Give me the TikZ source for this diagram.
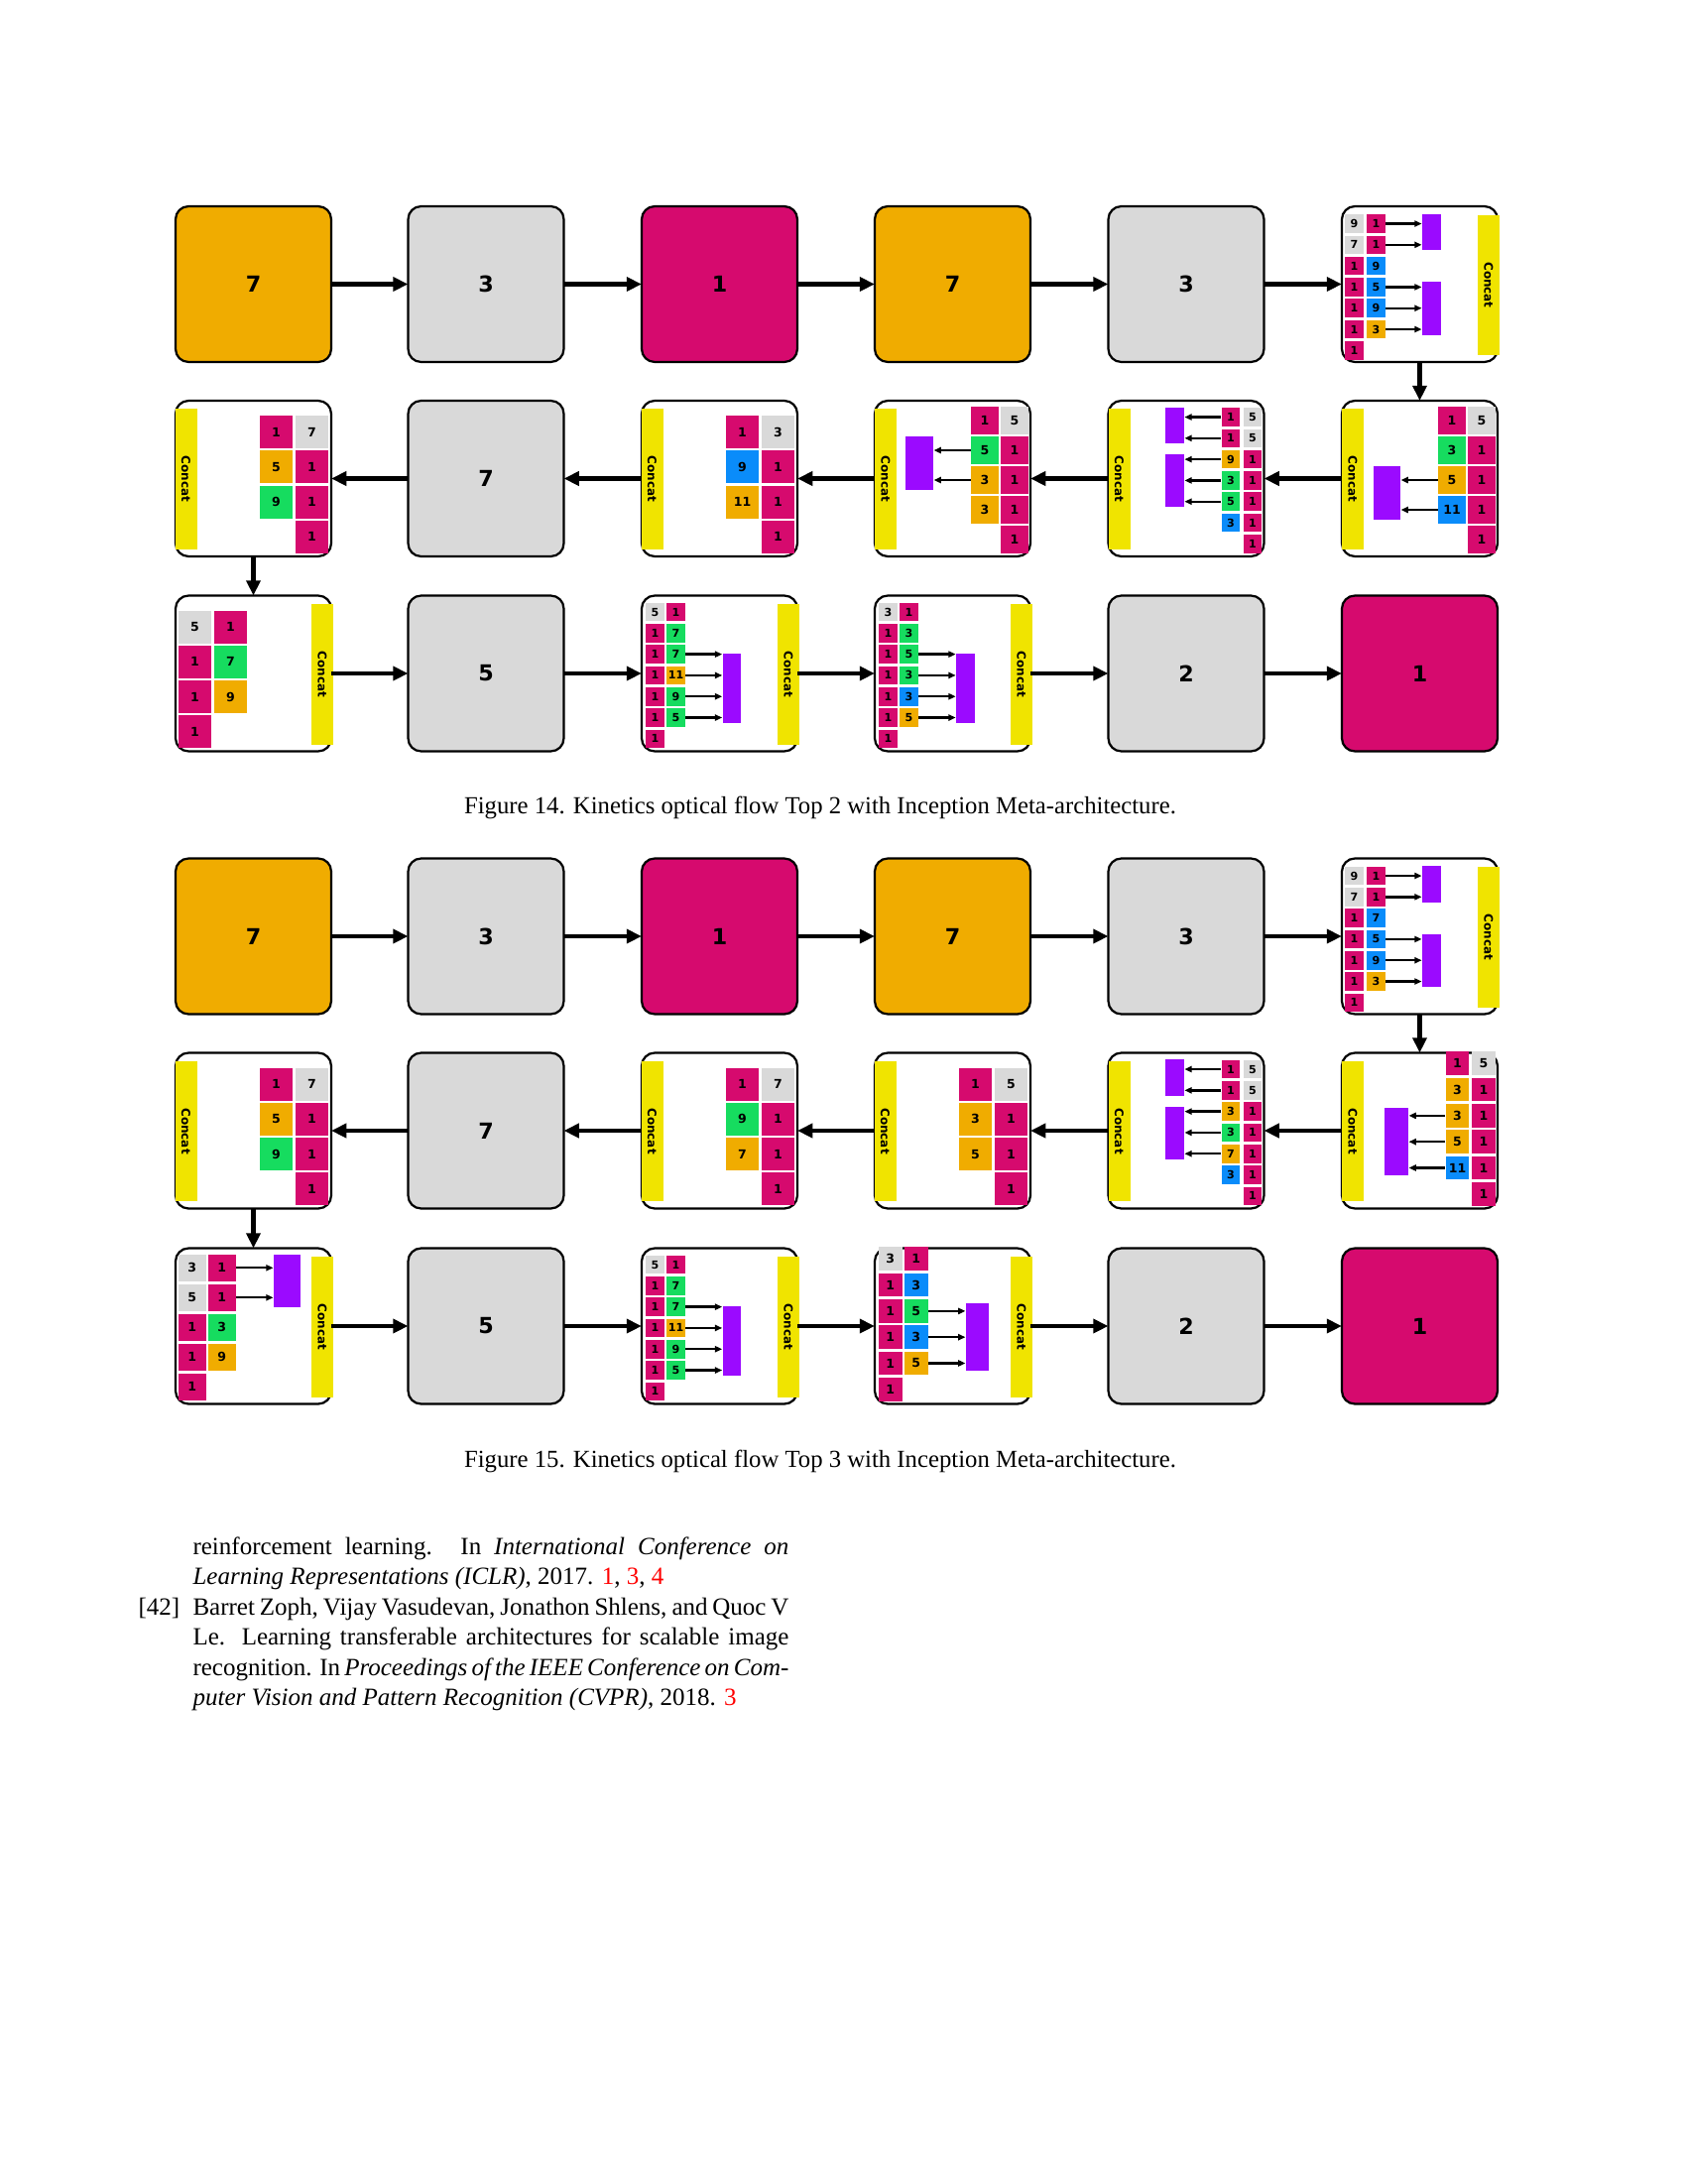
\documentclass[tikz,border=0pt]{standalone}
\usepackage{fontspec}
\setmainfont{Liberation Serif}
\newfontfamily\diagfont{DejaVu Sans}
\usepackage{tikz}
\usetikzlibrary{arrows.meta,positioning,calc}
\definecolor{mag}{RGB}{214,10,110}
\definecolor{orn}{RGB}{240,172,0}
\definecolor{gry}{RGB}{217,217,217}
\definecolor{grn}{RGB}{22,220,95}
\definecolor{blu}{RGB}{10,140,250}
\definecolor{vio}{RGB}{155,10,255}
\definecolor{yel}{RGB}{240,228,0}
\definecolor{cite}{RGB}{255,0,0}
\tikzset{
  >={Triangle[length=5.5pt,width=5pt]},
  blk/.style={draw=black,fill=#1,rounded corners=4.7pt,line width=0.8pt,
    minimum size=56.5pt,inner sep=0pt,outer sep=0pt,
    font=\diagfont\bfseries\fontsize{8}{8}\selectfont},
  blk/.default=white,
  flow/.style={->,line width=1.6pt},
  cell/.style={fill=#1,inner sep=0pt,font=\diagfont\bfseries\fontsize{4.5}{4.5}\selectfont},
  c18/.style={minimum size=6.7pt,font=\diagfont\bfseries\fontsize{4}{4}\selectfont},
  c23/.style={minimum size=8.5pt},
  c27/.style={minimum size=9.9pt},
  c33/.style={minimum size=11.9pt},
  pool/.style={fill=vio,inner sep=0pt},
  concat/.style={fill=yel,rotate=-90,minimum width=51pt,minimum height=7.9pt,inner sep=0pt,
    font=\diagfont\bfseries\fontsize{4.3}{4.3}\selectfont},
  tap/.style={-{Triangle[length=2.6pt,width=2.2pt]},line width=0.85pt},
  figcap/.style={font=\fontsize{8.9}{11}\selectfont},
  bib/.style={font=\fontsize{9}{11}\selectfont,anchor=base west,inner sep=0pt},
}
% cells of one block: name, size, x of col 0, x of col 1, y of row 0, row pitch, col/row/colour/label
\newcommand\cellgrid[7]{%
  \foreach \c/\r/\hue/\lab in {#7}{%
    \node[cell=\hue,#2] (#1-\c\r) at ({#3+\c*(#4-#3)},{#5+\r*#6}) {\lab};}}

\begin{document}
\begin{tikzpicture}[x=0.36pt,y=-0.36pt]
  \fill[white] (0,0) rectangle (1700,2202);
  \useasboundingbox (0,0) rectangle (1700,2202);

  % Figure 14
  \node[blk=orn] (A1) at (255.5,286.5) {7};
  \node[blk=gry] (A2) at (490,286.5) {3};
  \node[blk=mag] (A3) at (725.5,286.5) {1};
  \node[blk=orn] (A4) at (960.5,286.5) {7};
  \node[blk=gry] (A5) at (1196,286.5) {3};
  \node[blk] (A6) at (1431.5,286.5) {};
  \node[blk] (B6) at (1431.5,482.5) {};
  \node[blk] (B5) at (1196,482.5) {};
  \node[blk] (B4) at (960.5,482.5) {};
  \node[blk] (B3) at (725.5,482.5) {};
  \node[blk=gry] (B2) at (490,482.5) {7};
  \node[blk] (B1) at (255.5,482.5) {};
  \node[blk] (C1) at (255.5,679) {};
  \node[blk=gry] (C2) at (490,679) {5};
  \node[blk] (C3) at (725.5,679) {};
  \node[blk] (C4) at (960.5,679) {};
  \node[blk=gry] (C5) at (1196,679) {2};
  \node[blk=mag] (C6) at (1431.5,679) {1};

  \begin{scope}[shift={(A6.north west)}]
    \cellgrid{A6}{c18}{12.5}{34.5}{17.5}{21.3}{0/0/gry/9,1/0/mag/1,0/1/gry/7,1/1/mag/1,0/2/mag/1,1/2/blu/9,0/3/mag/1,1/3/blu/5,0/4/mag/1,1/4/blu/9,0/5/mag/1,1/5/orn/3,0/6/mag/1}
    \node[pool,minimum width=6.8pt,minimum height=13pt] (A6-p1) at (90.5,26) {};
    \node[pool,minimum width=6.8pt,minimum height=19.4pt] (A6-p2) at (90.5,103) {};
    \node[concat] (A6-cc) at (148,79.5) {Concat};
    \foreach \r in {0,1} \draw[tap] (A6-1\r.east) -- (A6-1\r.east -| A6-p1.west);
    \foreach \r in {3,4,5} \draw[tap] (A6-1\r.east) -- (A6-1\r.east -| A6-p2.west);
  \end{scope}
  \begin{scope}[shift={(B6.north west)}]
    \cellgrid{B6}{c27}{111}{141}{20}{30}{0/0/mag/1,1/0/gry/5,0/1/grn/3,1/1/mag/1,0/2/orn/5,1/2/mag/1,0/3/blu/11,1/3/mag/1,1/4/mag/1}
    \node[pool,minimum width=9.7pt,minimum height=19.4pt] (B6-p) at (45.5,93) {};
    \node[concat] (B6-cc) at (11,79) {Concat};
    \foreach \r in {2,3} \draw[tap] (B6-0\r.west) -- (B6-0\r.west -| B6-p.east);
  \end{scope}
  \begin{scope}[shift={(B5.north west)}]
    \cellgrid{B5}{c18}{123.5}{145.5}{16.5}{21.3}{0/0/mag/1,1/0/gry/5,0/1/mag/1,1/1/gry/5,0/2/orn/9,1/2/mag/1,0/3/grn/3,1/3/mag/1,0/4/grn/5,1/4/mag/1,0/5/blu/3,1/5/mag/1,1/6/mag/1}
    \node[pool,minimum width=6.7pt,minimum height=13pt] (B5-p1) at (67,25) {};
    \node[pool,minimum width=6.7pt,minimum height=19.1pt] (B5-p2) at (67,80.5) {};
    \node[concat] (B5-cc) at (11,79) {Concat};
    \foreach \r in {0,1} \draw[tap] (B5-0\r.west) -- (B5-0\r.west -| B5-p1.east);
    \foreach \r in {2,3,4} \draw[tap] (B5-0\r.west) -- (B5-0\r.west -| B5-p2.east);
  \end{scope}
  \begin{scope}[shift={(B4.north west)}]
    \cellgrid{B4}{c27}{111}{141}{20}{30}{0/0/mag/1,1/0/gry/5,0/1/grn/5,1/1/mag/1,0/2/orn/3,1/2/mag/1,0/3/orn/3,1/3/mag/1,1/4/mag/1}
    \node[pool,minimum width=10.1pt,minimum height=19.4pt] (B4-p) at (45,63) {};
    \node[concat] (B4-cc) at (11,79) {Concat};
    \foreach \r in {1,2} \draw[tap] (B4-0\r.west) -- (B4-0\r.west -| B4-p.east);
  \end{scope}
  \begin{scope}[shift={(B3.north west)}]
    \cellgrid{B3}{c33}{101.5}{137.5}{31.5}{35.3}{0/0/mag/1,1/0/gry/3,0/1/blu/9,1/1/mag/1,0/2/orn/11,1/2/mag/1,1/3/mag/1}
    \node[concat] (B3-cc) at (10.5,79) {Concat};
  \end{scope}
  \begin{scope}[shift={(B1.north west)}]
    \cellgrid{B1}{c33}{101.5}{137.5}{31.5}{35.3}{0/0/mag/1,1/0/gry/7,0/1/orn/5,1/1/mag/1,0/2/grn/9,1/2/mag/1,1/3/mag/1}
    \node[concat] (B1-cc) at (10.5,79) {Concat};
  \end{scope}
  \begin{scope}[shift={(C1.north west)}]
    \cellgrid{C1}{c33}{19.5}{55.5}{31.5}{35.3}{0/0/gry/5,1/0/mag/1,0/1/mag/1,1/1/grn/7,0/2/mag/1,1/2/orn/9,0/3/mag/1}
    \node[concat] (C1-cc) at (148,79.5) {Concat};
  \end{scope}
  \begin{scope}[shift={(C3.north west)}]
    \cellgrid{C3}{c18}{13.5}{34.5}{16.5}{21.3}{0/0/gry/5,1/0/mag/1,0/1/mag/1,1/1/grn/7,0/2/mag/1,1/2/grn/7,0/3/mag/1,1/3/orn/11,0/4/mag/1,1/4/grn/9,0/5/mag/1,1/5/grn/5,0/6/mag/1}
    \node[pool,minimum width=6.7pt,minimum height=25.2pt] (C3-p) at (91,93) {};
    \node[concat] (C3-cc) at (148,79.5) {Concat};
    \foreach \r in {2,...,5} \draw[tap] (C3-1\r.east) -- (C3-1\r.east -| C3-p.west);
  \end{scope}
  \begin{scope}[shift={(C4.north west)}]
    \cellgrid{C4}{c18}{13.5}{34.5}{16.5}{21.3}{0/0/gry/3,1/0/mag/1,0/1/mag/1,1/1/grn/3,0/2/mag/1,1/2/grn/5,0/3/mag/1,1/3/grn/3,0/4/mag/1,1/4/blu/3,0/5/mag/1,1/5/orn/5,0/6/mag/1}
    \node[pool,minimum width=6.7pt,minimum height=25.2pt] (C4-p) at (91.5,93) {};
    \node[concat] (C4-cc) at (148,79.5) {Concat};
    \foreach \r in {2,...,5} \draw[tap] (C4-1\r.east) -- (C4-1\r.east -| C4-p.west);
  \end{scope}

  \node[figcap] (cap14) at (827,814) {Figure 14. Kinetics optical flow Top 2 with Inception Meta-architecture.};

  % Figure 15
  \node[blk=orn] (D1) at (255.5,944) {7};
  \node[blk=gry] (D2) at (490,944) {3};
  \node[blk=mag] (D3) at (725.5,944) {1};
  \node[blk=orn] (D4) at (960.5,944) {7};
  \node[blk=gry] (D5) at (1196,944) {3};
  \node[blk] (D6) at (1431.5,944) {};
  \node[blk] (E6) at (1431.5,1140) {};
  \node[blk] (E5) at (1196,1140) {};
  \node[blk] (E4) at (960.5,1140) {};
  \node[blk] (E3) at (725.5,1140) {};
  \node[blk=gry] (E2) at (490,1140) {7};
  \node[blk] (E1) at (255.5,1140) {};
  \node[blk] (F1) at (255.5,1337) {};
  \node[blk=gry] (F2) at (490,1337) {5};
  \node[blk] (F3) at (725.5,1337) {};
  \node[blk] (F4) at (960.5,1337) {};
  \node[blk=gry] (F5) at (1196,1337) {2};
  \node[blk=mag] (F6) at (1431.5,1337) {1};

  \begin{scope}[shift={(D6.north west)}]
    \cellgrid{D6}{c18}{12.5}{34.5}{17.5}{21.3}{0/0/gry/9,1/0/mag/1,0/1/gry/7,1/1/mag/1,0/2/mag/1,1/2/blu/7,0/3/mag/1,1/3/blu/5,0/4/mag/1,1/4/blu/9,0/5/mag/1,1/5/orn/3,0/6/mag/1}
    \node[pool,minimum width=6.8pt,minimum height=13pt] (D6-p1) at (90.5,26) {};
    \node[pool,minimum width=6.8pt,minimum height=19.4pt] (D6-p2) at (90.5,103) {};
    \node[concat] (D6-cc) at (148,79.5) {Concat};
    \foreach \r in {0,1} \draw[tap] (D6-1\r.east) -- (D6-1\r.east -| D6-p1.west);
    \foreach \r in {3,4,5} \draw[tap] (D6-1\r.east) -- (D6-1\r.east -| D6-p2.west);
  \end{scope}
  \begin{scope}[shift={(E6.north west)}]
    \cellgrid{E6}{c23}{116.5}{143}{10.75}{26.3}{0/0/mag/1,1/0/gry/5,0/1/orn/3,1/1/mag/1,0/2/orn/3,1/2/mag/1,0/3/orn/5,1/3/mag/1,0/4/blu/11,1/4/mag/1,1/5/mag/1}
    \node[pool,minimum width=8.6pt,minimum height=24.8pt] (E6-p) at (55,89.5) {};
    \node[concat] (E6-cc) at (11,79) {Concat};
    \foreach \r in {2,3,4} \draw[tap] (E6-0\r.west) -- (E6-0\r.west -| E6-p.east);
  \end{scope}
  \begin{scope}[shift={(E5.north west)}]
    \cellgrid{E5}{c18}{123.5}{145.5}{16.5}{21.3}{0/0/mag/1,1/0/gry/5,0/1/mag/1,1/1/gry/5,0/2/orn/3,1/2/mag/1,0/3/grn/3,1/3/mag/1,0/4/orn/7,1/4/mag/1,0/5/blu/3,1/5/mag/1,1/6/mag/1}
    \node[pool,minimum width=6.7pt,minimum height=13pt] (E5-p1) at (67,25) {};
    \node[pool,minimum width=6.7pt,minimum height=19.1pt] (E5-p2) at (67,80.5) {};
    \node[concat] (E5-cc) at (11,79) {Concat};
    \foreach \r in {0,1} \draw[tap] (E5-0\r.west) -- (E5-0\r.west -| E5-p1.east);
    \foreach \r in {2,3,4} \draw[tap] (E5-0\r.west) -- (E5-0\r.west -| E5-p2.east);
  \end{scope}
  \begin{scope}[shift={(E4.north west)}]
    \cellgrid{E4}{c33}{101.5}{137.5}{31.5}{35.3}{0/0/mag/1,1/0/gry/5,0/1/orn/3,1/1/mag/1,0/2/orn/5,1/2/mag/1,1/3/mag/1}
    \node[concat] (E4-cc) at (10.5,79) {Concat};
  \end{scope}
  \begin{scope}[shift={(E3.north west)}]
    \cellgrid{E3}{c33}{101.5}{137.5}{31.5}{35.3}{0/0/mag/1,1/0/gry/7,0/1/grn/9,1/1/mag/1,0/2/orn/7,1/2/mag/1,1/3/mag/1}
    \node[concat] (E3-cc) at (10.5,79) {Concat};
  \end{scope}
  \begin{scope}[shift={(E1.north west)}]
    \cellgrid{E1}{c33}{101.5}{137.5}{31.5}{35.3}{0/0/mag/1,1/0/gry/7,0/1/orn/5,1/1/mag/1,0/2/grn/9,1/2/mag/1,1/3/mag/1}
    \node[concat] (E1-cc) at (10.5,79) {Concat};
  \end{scope}
  \begin{scope}[shift={(F1.north west)}]
    \cellgrid{F1}{c27}{16.75}{46.75}{19.75}{30}{0/0/gry/3,1/0/mag/1,0/1/gry/5,1/1/mag/1,0/2/mag/1,1/2/grn/3,0/3/mag/1,1/3/orn/9,0/4/mag/1}
    \node[pool,minimum width=9.7pt,minimum height=19.4pt] (F1-p) at (112.5,33) {};
    \node[concat] (F1-cc) at (148,79.5) {Concat};
    \foreach \r in {0,1} \draw[tap] (F1-1\r.east) -- (F1-1\r.east -| F1-p.west);
  \end{scope}
  \begin{scope}[shift={(F3.north west)}]
    \cellgrid{F3}{c18}{13.5}{34.5}{16.5}{21.3}{0/0/gry/5,1/0/mag/1,0/1/mag/1,1/1/grn/7,0/2/mag/1,1/2/grn/7,0/3/mag/1,1/3/orn/11,0/4/mag/1,1/4/grn/9,0/5/mag/1,1/5/grn/5,0/6/mag/1}
    \node[pool,minimum width=6.7pt,minimum height=25.2pt] (F3-p) at (91,93) {};
    \node[concat] (F3-cc) at (148,79.5) {Concat};
    \foreach \r in {2,...,5} \draw[tap] (F3-1\r.east) -- (F3-1\r.east -| F3-p.west);
  \end{scope}
  \begin{scope}[shift={(F4.north west)}]
    \cellgrid{F4}{c23}{15.75}{41.75}{10.75}{26.3}{0/0/gry/3,1/0/mag/1,0/1/mag/1,1/1/blu/3,0/2/mag/1,1/2/grn/5,0/3/mag/1,1/3/blu/3,0/4/mag/1,1/4/orn/5,0/5/mag/1}
    \node[pool,minimum width=8.3pt,minimum height=24.8pt] (F4-p) at (103.5,89.5) {};
    \node[concat] (F4-cc) at (148,79.5) {Concat};
    \foreach \r in {2,3,4} \draw[tap] (F4-1\r.east) -- (F4-1\r.east -| F4-p.west);
  \end{scope}

  \node[figcap] (cap15) at (827,1473) {Figure 15. Kinetics optical flow Top 3 with Inception Meta-architecture.};

  % connectors
  \foreach \a/\b in {A1/A2,A2/A3,A3/A4,A4/A5,A5/A6,A6/B6,B6/B5,B5/B4,B4/B3,B3/B2,B2/B1,B1/C1,C1/C2,C2/C3,C3/C4,C4/C5,C5/C6,
                     D1/D2,D2/D3,D3/D4,D4/D5,D5/D6,D6/E6,E6/E5,E5/E4,E4/E3,E3/E2,E2/E1,E1/F1,F1/F2,F2/F3,F3/F4,F4/F5,F5/F6}
    \draw[flow] (\a) -- (\b);

  % references
  \node[bib] (bib1) at (194,1567) {\makebox[216.3pt][s]{reinforcement learning. In \emph{International Conference on}}};
  \node[bib] (bib2) at (194,1597.5) {\emph{Learning Representations (ICLR)}, 2017. \textcolor{cite}{1}, \textcolor{cite}{3}, \textcolor{cite}{4}};
  \node[bib] (num42) at (139,1628) {[42]};
  \node[bib] (bib3) at (194,1628) {\makebox[216.3pt][s]{Barret Zoph, Vijay Vasudevan, Jonathon Shlens, and Quoc V}};
  \node[bib] (bib4) at (194,1658.7) {\makebox[216.3pt][s]{Le. Learning transferable architectures for scalable image}};
  \node[bib] (bib5) at (194,1689.2) {\makebox[216.3pt][s]{recognition. In \emph{Proceedings of the IEEE Conference on Com-}}};
  \node[bib] (bib6) at (194,1719.8) {\emph{puter Vision and Pattern Recognition (CVPR)}, 2018. \textcolor{cite}{3}};
\end{tikzpicture}
\end{document}
